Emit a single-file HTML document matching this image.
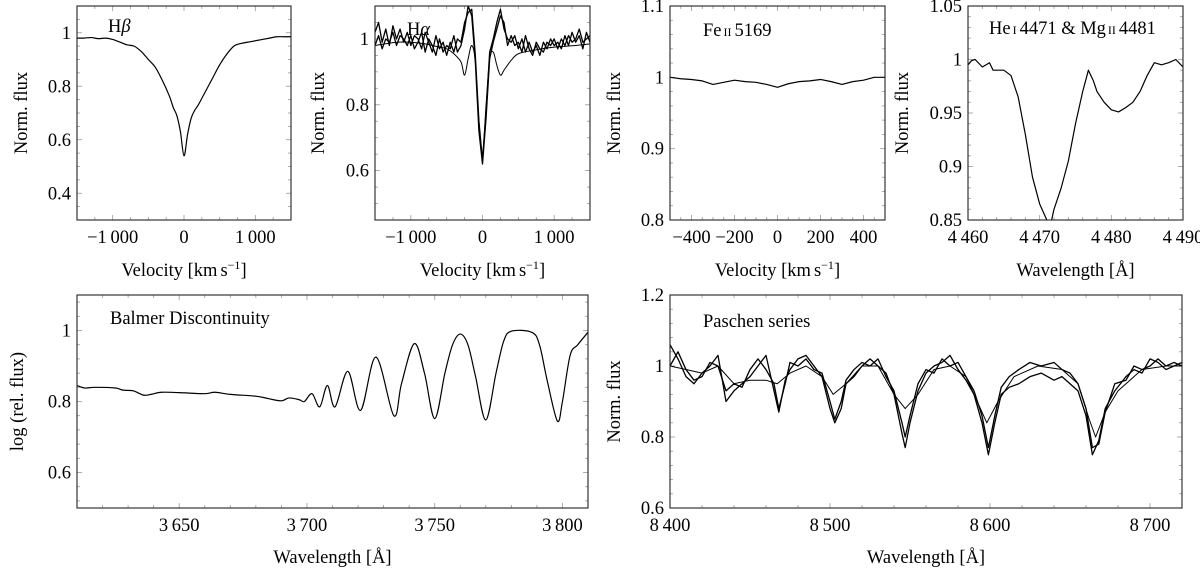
<!DOCTYPE html>
<html><head><meta charset="utf-8"><style>
html,body{margin:0;padding:0;background:#fff;}
svg{display:block;font-family:"Liberation Serif","DejaVu Serif",serif;}
</style></head><body>
<svg id="fig" width="1200" height="573" viewBox="0 0 1200 573" xmlns="http://www.w3.org/2000/svg"></svg>
<script>
// ---------- data ----------
const hbVel = [-1500,-1400,-1300,-1200,-1100,-1000,-900,-800,-700,-600,-500,-400,-300,-200,-150,-100,-50,0,50,100,150,200,300,400,500,600,700,800,900,1000,1100,1200,1300,1400,1500];
const hbFlux = [0.98,0.98,0.982,0.978,0.98,0.975,0.965,0.955,0.95,0.93,0.90,0.87,0.82,0.76,0.72,0.69,0.63,0.54,0.62,0.68,0.71,0.73,0.78,0.83,0.88,0.92,0.95,0.96,0.965,0.97,0.975,0.98,0.985,0.985,0.985];

const haVel = [-1500,-1450,-1400,-1350,-1300,-1250,-1200,-1150,-1100,-1050,-1000,-950,-900,-850,-800,-750,-700,-650,-600,-550,-500,-450,-400,-350,-300,-250,-200,-150,-100,-50,0,50,100,150,200,250,300,350,400,450,500,550,600,650,700,750,800,850,900,950,1000,1050,1100,1150,1200,1250,1300,1350,1400,1450,1500];
const haFluxA = [1.02,1.05,0.99,1.03,0.98,1.04,1.00,1.03,0.99,1.02,0.98,1.01,1.00,0.97,1.02,0.99,0.96,1.01,0.97,0.99,0.95,0.99,0.96,1.00,0.99,1.05,1.08,1.09,0.95,0.75,0.63,0.78,0.96,1.00,1.05,1.09,1.03,1.00,0.99,1.01,0.97,1.00,0.96,0.99,0.96,0.98,0.95,0.99,0.97,1.00,0.98,0.99,0.97,1.01,0.98,1.02,0.99,1.01,0.97,1.02,0.99];
const haFluxB = [0.98,1.01,0.97,1.00,0.99,1.02,0.98,1.01,1.00,0.98,1.01,0.97,0.99,1.02,0.96,1.00,0.98,0.95,1.00,0.96,0.98,0.97,1.01,0.96,0.98,1.03,1.10,1.07,0.93,0.72,0.62,0.76,0.94,0.99,1.03,1.07,1.05,0.98,1.01,0.98,0.99,0.96,1.01,0.97,0.95,0.99,0.97,0.96,0.99,0.98,1.00,0.97,1.00,0.98,1.01,0.99,1.00,1.03,0.99,1.00,1.01];
const haVelC = [-1500,-1200,-1000,-800,-600,-500,-400,-300,-250,-200,-150,-100,-50,0,50,100,150,200,250,300,400,500,700,1000,1300,1500];
const haFluxC = [0.98,0.99,0.99,0.985,0.975,0.97,0.955,0.93,0.89,0.94,0.98,0.93,0.75,0.65,0.80,0.94,0.96,0.92,0.89,0.905,0.935,0.955,0.965,0.975,0.98,0.985];

const feVel = [-500,-450,-400,-350,-300,-250,-200,-150,-100,-50,0,50,100,150,200,250,300,350,400,450,500];
const feFlux = [1.0,0.998,0.997,0.995,0.99,0.993,0.996,0.994,0.993,0.99,0.986,0.991,0.994,0.995,0.997,0.994,0.99,0.994,0.996,1.0,1.0];

const heWl = [4460,4460.5,4461,4462,4463,4463.5,4464,4465,4466,4467,4468,4469,4470,4471,4471.5,4472,4473,4474,4475,4476,4476.8,4477.5,4478,4479,4480,4481,4482,4483,4484,4485,4486,4487,4488,4489,4490];
const heFlux = [0.995,0.999,1.0,0.993,0.997,0.99,0.99,0.99,0.985,0.965,0.93,0.89,0.865,0.85,0.845,0.86,0.88,0.905,0.94,0.97,0.99,0.98,0.97,0.96,0.953,0.951,0.955,0.96,0.97,0.985,0.997,0.995,0.997,1.0,0.993];

const bdWl = [3610,3613,3617,3625,3628,3632,3636,3639,3643,3650,3660,3664,3670,3680,3685,3690,3693,3697,3699,3702,3705,3708,3711,3716,3721,3727,3734,3737,3742,3746,3750,3754,3757,3760,3763,3766,3770,3774,3777,3780,3788,3791,3794,3798,3800,3803,3806,3810];
const bdFlux = [0.845,0.838,0.84,0.838,0.832,0.83,0.818,0.82,0.826,0.825,0.822,0.826,0.82,0.815,0.808,0.802,0.81,0.805,0.80,0.822,0.785,0.845,0.785,0.885,0.775,0.925,0.76,0.85,0.963,0.88,0.752,0.88,0.96,0.99,0.96,0.87,0.748,0.88,0.97,0.998,0.995,0.96,0.86,0.745,0.80,0.93,0.96,0.995];

const paWl = [8400,8405,8410,8415,8420,8425,8430,8435,8440,8445,8450,8455,8460,8465,8468,8472,8475,8480,8485,8490,8495,8500,8503,8507,8510,8515,8520,8525,8530,8535,8540,8545,8547,8550,8555,8560,8565,8570,8575,8580,8585,8590,8595,8599,8603,8607,8612,8618,8625,8632,8640,8645,8650,8655,8660,8664,8668,8672,8678,8685,8690,8695,8700,8705,8710,8715,8720];
const paFluxA = [1.06,1.02,0.97,0.95,0.98,1.0,1.03,0.9,0.93,0.95,0.97,1.0,1.03,0.93,0.87,0.96,0.99,1.02,1.03,1.0,0.97,0.88,0.84,0.88,0.95,0.97,1.0,1.02,1.0,0.98,0.92,0.81,0.77,0.84,0.93,0.98,1.0,1.01,1.03,0.99,0.96,0.92,0.84,0.75,0.84,0.92,0.94,0.95,0.97,0.98,0.96,0.97,0.95,0.93,0.86,0.75,0.79,0.88,0.93,0.97,0.99,0.98,1.02,1.01,0.99,1.0,1.01];
const paFluxB = [1.0,1.04,0.99,0.96,0.97,1.01,1.0,0.93,0.95,0.94,0.99,1.02,0.99,0.95,0.88,0.95,1.01,1.0,1.02,0.99,0.98,0.9,0.85,0.9,0.96,0.99,1.01,1.0,1.02,0.97,0.93,0.84,0.8,0.86,0.95,0.99,0.98,1.02,1.0,1.01,0.97,0.93,0.86,0.77,0.86,0.94,0.97,0.99,1.01,1.0,1.01,0.99,0.98,0.95,0.88,0.77,0.78,0.87,0.95,0.96,1.0,0.99,1.0,1.02,1.0,1.01,1.0];
const paWlC = [8400,8410,8420,8430,8440,8450,8460,8467,8475,8485,8495,8502,8510,8520,8530,8540,8547,8555,8565,8575,8585,8592,8598,8605,8615,8630,8645,8655,8662,8666,8672,8680,8695,8710,8720];
const paFluxC = [1.0,0.99,0.98,1.0,0.95,0.96,0.96,0.95,0.98,1.0,0.97,0.92,0.95,1.0,1.0,0.92,0.88,0.92,0.99,1.0,0.97,0.9,0.84,0.9,0.97,1.0,0.99,0.95,0.85,0.80,0.87,0.93,0.99,1.0,1.0];

// tick labels
const hbXTicks = [-1000,0,1000], hbXLabels = ["\u22121\u2009000","0","1\u2009000"];
const hbYTicks = [0.4,0.6,0.8,1], hbYLabels = ["0.4","0.6","0.8","1"];
const haYTicks = [0.6,0.8,1], haYLabels = ["0.6","0.8","1"];
const feXTicks = [-400,-200,0,200,400], feXLabels = ["\u2212400","\u2212200","0","200","400"];
const feYTicks = [0.8,0.9,1,1.1], feYLabels = ["0.8","0.9","1","1.1"];
const heXTicks = [4460,4470,4480,4490], heXLabels = ["4\u2009460","4\u2009470","4\u2009480","4\u2009490"];
const heYTicks = [0.85,0.9,0.95,1,1.05], heYLabels = ["0.85","0.9","0.95","1","1.05"];
const bdXTicks = [3650,3700,3750,3800], bdXLabels = ["3\u2009650","3\u2009700","3\u2009750","3\u2009800"];
const bdYTicks = [0.6,0.8,1], bdYLabels = ["0.6","0.8","1"];
const paXTicks = [8400,8500,8600,8700], paXLabels = ["8\u2009400","8\u2009500","8\u2009600","8\u2009700"];
const paYTicks = [0.6,0.8,1,1.2], paYLabels = ["0.6","0.8","1","1.2"];

// ---------- drawing ----------
const NS = "http://www.w3.org/2000/svg";
const svg = document.getElementById("fig");
const FS = "18.5";
function mk(tag, attrs, parent){
  const e = document.createElementNS(NS, tag);
  for (const k in attrs) e.setAttribute(k, attrs[k]);
  (parent||svg).appendChild(e);
  return e;
}
let clipId = 0;
function smoothPath(pts){
  let d = "M"+pts[0][0].toFixed(2)+","+pts[0][1].toFixed(2);
  for (let i=0;i<pts.length-1;i++){
    const p0=pts[Math.max(0,i-1)], p1=pts[i], p2=pts[i+1], p3=pts[Math.min(pts.length-1,i+2)];
    const c1x=p1[0]+(p2[0]-p0[0])/6, c1y=p1[1]+(p2[1]-p0[1])/6;
    const c2x=p2[0]-(p3[0]-p1[0])/6, c2y=p2[1]-(p3[1]-p1[1])/6;
    d += " C"+c1x.toFixed(2)+","+c1y.toFixed(2)+" "+c2x.toFixed(2)+","+c2y.toFixed(2)+" "+p2[0].toFixed(2)+","+p2[1].toFixed(2);
  }
  return d;
}
function panel(o){
  const g = mk("g", {});
  
  
  const sx = v => o.x0 + (v-o.xmin)/(o.xmax-o.xmin)*(o.x1-o.x0);
  const sy = v => o.y1 - (v-o.ymin)/(o.ymax-o.ymin)*(o.y1-o.y0);
  const tg = mk("g", {stroke:"#999","stroke-width":"0.8"}, g);
  
  
  const xs = o.xMinorStep;
  for (let v=Math.ceil(o.xmin/xs)*xs; v<=o.xmax+1e-9; v+=xs){
    const X=sx(v), major = o.xTicks.some(t=>Math.abs(t-v)<1e-6), L = major?5:3;
    mk("line",{x1:X,x2:X,y1:o.y1,y2:o.y1-L},tg); mk("line",{x1:X,x2:X,y1:o.y0,y2:o.y0+L},tg);
  }
  const ys = o.yMinorStep;
  for (let v=Math.ceil(o.ymin/ys-1e-6)*ys; v<=o.ymax+1e-9; v+=ys){
    const Y=sy(v), major = o.yTicks.some(t=>Math.abs(t-v)<1e-6), L = major?5:3;
    mk("line",{y1:Y,y2:Y,x1:o.x0,x2:o.x0+L},tg); mk("line",{y1:Y,y2:Y,x1:o.x1,x2:o.x1-L},tg);
  }
  const cid = "clip"+(clipId++);
  const cp = mk("clipPath",{id:cid},g);
  mk("rect",{x:o.x0,y:o.y0,width:o.x1-o.x0,height:o.y1-o.y0},cp);
  const sg = mk("g",{"clip-path":"url(#"+cid+")"},g);
  o.series.forEach((s,i)=>{
    const pts = s.x.map((v,j)=>[sx(v), sy(s.y[j])]);
    const d = s.smooth ? smoothPath(pts) : "M"+pts.map(p=>p[0].toFixed(2)+","+p[1].toFixed(2)).join(" L");
    const p = mk("path",{d:d,fill:"none",stroke:"#000","stroke-width":s.w||1.2,"stroke-linejoin":"round"},sg);
    
    
  });
  const fr = mk("rect",{x:o.x0,y:o.y0,width:o.x1-o.x0,height:o.y1-o.y0,fill:"none",stroke:"#222","stroke-width":"1.1"},g);
  
  
  o.xTicks.forEach((t,i)=>{
    const e = mk("text",{x:sx(t),y:o.y1+23,"text-anchor":"middle","font-size":FS},g);
    e.textContent = o.xLabels[i];
    
    
  });
  o.yTicks.forEach((t,i)=>{
    const e = mk("text",{x:o.x0-6,y:sy(t)+6,"text-anchor":"end","font-size":FS},g);
    e.textContent = o.yLabels[i];
    
    
  });
  const xt = mk("text",{x:(o.x0+o.x1)/2,y:o.xTitleY,"text-anchor":"middle","font-size":FS},g);
  xt.innerHTML = o.xTitle;
  
  
  const ycy=(o.y0+o.y1)/2;
  const yt = mk("text",{x:o.yTitleX,y:ycy,"text-anchor":"middle","font-size":FS,transform:"rotate(-90 "+o.yTitleX+" "+ycy+")"},g);
  yt.textContent = o.yTitle;
  
  
  const lt = mk("text",{x:o.labelX,y:o.labelY,"font-size":FS},g);
  lt.innerHTML = o.label;
  
  
}
const velTitle = 'Velocity [km<tspan dx="3">s</tspan><tspan dy="-7" font-size="12">\u22121</tspan><tspan dy="7">]</tspan>';
const wlTitle = 'Wavelength [Å]';

panel({name:"panel-h-beta",x0:77,x1:291,y0:6,y1:220,xmin:-1500,xmax:1500,ymin:0.3,ymax:1.1,
  xMinorStep:250,yMinorStep:0.05,xTicks:hbXTicks,xLabels:hbXLabels,yTicks:hbYTicks,yLabels:hbYLabels,
  xTitle:velTitle,xTitleY:276,yTitle:"Norm. flux",yTitleX:27,label:'H<tspan font-style="italic">β</tspan>',labelX:108,labelY:32,
  series:[{name:"h-beta-line",x:hbVel,y:hbFlux,smooth:true}]});
panel({name:"panel-h-alpha",x0:375,x1:590,y0:6,y1:220,xmin:-1500,xmax:1500,ymin:0.45,ymax:1.1,
  xMinorStep:250,yMinorStep:0.05,xTicks:hbXTicks,xLabels:hbXLabels,yTicks:haYTicks,yLabels:haYLabels,
  xTitle:velTitle,xTitleY:276,yTitle:"Norm. flux",yTitleX:324,label:'H<tspan font-style="italic">α</tspan>',labelX:407,labelY:35,
  series:[{name:"h-alpha-epoch-1",x:haVel,y:haFluxA,w:1.3},{name:"h-alpha-epoch-2",x:haVel,y:haFluxB,w:1.3},{name:"h-alpha-epoch-3",x:haVelC,y:haFluxC,smooth:true,w:1}]});
panel({name:"panel-fe-ii",x0:670,x1:885,y0:6,y1:220,xmin:-500,xmax:500,ymin:0.8,ymax:1.1,
  xMinorStep:50,yMinorStep:0.02,xTicks:feXTicks,xLabels:feXLabels,yTicks:feYTicks,yLabels:feYLabels,
  xTitle:velTitle,xTitleY:276,yTitle:"Norm. flux",yTitleX:620,label:'Fe<tspan font-size="12" dx="2">II</tspan><tspan dx="3">5169</tspan>',labelX:703,labelY:36,
  series:[{name:"fe-ii-line",x:feVel,y:feFlux}]});
panel({name:"panel-he-mg",x0:968,x1:1183,y0:6,y1:220,xmin:4460,xmax:4490,ymin:0.85,ymax:1.05,
  xMinorStep:2,yMinorStep:0.01,xTicks:heXTicks,xLabels:heXLabels,yTicks:heYTicks,yLabels:heYLabels,
  xTitle:wlTitle,xTitleY:276,yTitle:"Norm. flux",yTitleX:908,label:'He<tspan font-size="12" dx="2">I</tspan><tspan dx="3">4471 &amp; Mg</tspan><tspan font-size="12" dx="2">II</tspan><tspan dx="3">4481</tspan>',labelX:989,labelY:34,
  series:[{name:"he-mg-line",x:heWl,y:heFlux}]});
panel({name:"panel-balmer",x0:77,x1:588,y0:295,y1:508,xmin:3610,xmax:3810,ymin:0.5,ymax:1.1,
  xMinorStep:10,yMinorStep:0.04,xTicks:bdXTicks,xLabels:bdXLabels,yTicks:bdYTicks,yLabels:bdYLabels,
  xTitle:wlTitle,xTitleY:563,yTitle:"log (rel. flux)",yTitleX:23,label:"Balmer Discontinuity",labelX:110,labelY:324,
  series:[{name:"balmer-line",x:bdWl,y:bdFlux,smooth:true}]});
panel({name:"panel-paschen",x0:670,x1:1182,y0:295,y1:508,xmin:8400,xmax:8720,ymin:0.6,ymax:1.2,
  xMinorStep:20,yMinorStep:0.04,xTicks:paXTicks,xLabels:paXLabels,yTicks:paYTicks,yLabels:paYLabels,
  xTitle:wlTitle,xTitleY:563,yTitle:"Norm. flux",yTitleX:620,label:"Paschen series",labelX:703,labelY:327,
  series:[{name:"paschen-epoch-1",x:paWl,y:paFluxA,w:1.3},{name:"paschen-epoch-2",x:paWl,y:paFluxB,w:1.3},{name:"paschen-epoch-3",x:paWlC,y:paFluxC,w:1}]});
</script>
</body></html>
